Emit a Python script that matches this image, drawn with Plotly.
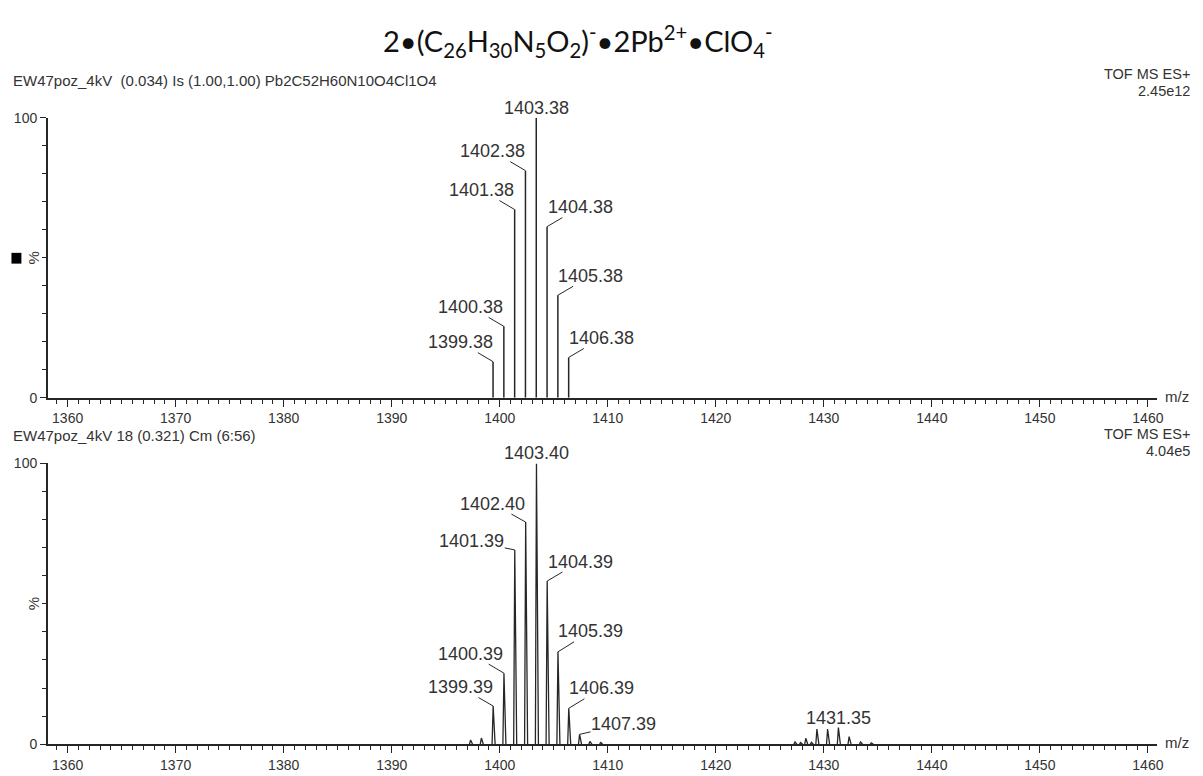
import plotly.graph_objects as go

# ---------------- data ----------------
# Top panel: theoretical isotope pattern (centroid sticks)
top_mz = [1399.38, 1400.38, 1401.38, 1402.38, 1403.38, 1404.38, 1405.38, 1406.38]
top_int = [12.9, 25.5, 67.2, 81.1, 100.0, 61.1, 36.6, 14.4]
top_labels = ["1399.38", "1400.38", "1401.38", "1402.38", "1403.38", "1404.38", "1405.38", "1406.38"]

# Bottom panel: measured spectrum peaks
bot_mz = [1397.30, 1398.30, 1399.39, 1400.39, 1401.39, 1402.40, 1403.40, 1404.39, 1405.39,
          1406.39, 1407.39, 1408.35, 1409.35, 1427.33, 1427.85, 1428.33, 1428.85, 1429.36,
          1430.35, 1431.35, 1432.34, 1433.40, 1434.40]
bot_int = [1.5, 2.2, 13.6, 25.3, 69.2, 79.1, 100.0, 58.1, 32.9,
           12.8, 3.5, 1.0, 0.6, 0.8, 0.6, 2.1, 0.7, 5.4,
           5.4, 5.9, 2.7, 0.8, 0.5]
bot_label_mz = [1399.39, 1400.39, 1401.39, 1402.40, 1403.40, 1404.39, 1405.39, 1406.39, 1407.39, 1431.35]
bot_label_int = [13.6, 25.3, 69.2, 79.1, 100.0, 58.1, 32.9, 12.8, 3.5, 5.9]
bot_labels = ["1399.39", "1400.39", "1401.39", "1402.40", "1403.40", "1404.39", "1405.39",
              "1406.39", "1407.39", "1431.35"]

x_label_ticks = [1360, 1370, 1380, 1390, 1400, 1410, 1420, 1430, 1440, 1450, 1460]
x_mid_ticks = [1365, 1375, 1385, 1395, 1405, 1415, 1425, 1435, 1445, 1455]
x_range = [1358.16, 1460.86]

# ---------------- styles / layout helpers ----------------
W, H = 1203, 776
FONT = "Liberation Sans, Arial, sans-serif"
INK = "#262626"
TXT = "#333333"

def px(x):
    return x / W

def py(y):
    return 1 - y / H

# label offsets (pixels, text centre relative to peak top); None = centred above
top_off = [(-33, -19.5), (-33, -19.5), (-33, -19.5), (-33, -19.5), None, (33, -19.5), (33, -19.5), (33, -19.5)]
bot_off = [(-33, -19), (-33, -19.5), (-43, -8.5), (-33, -18.5), None, (33, -19.5), (33, -20.5), (33, -20), (44, -10), None]

fig = go.Figure()

# top sticks
xs, ys = [], []
for m, h in zip(top_mz, top_int):
    xs += [m, m, None]
    ys += [0, h, None]
fig.add_trace(go.Scatter(x=xs, y=ys, mode="lines", line=dict(color=INK, width=1.5),
                         xaxis="x", yaxis="y", hoverinfo="skip", showlegend=False))

# bottom profile peaks (narrow peak outline around each measured centroid)
LW, RW = 0.1, 0.18
xs, ys = [], []
for m, h in zip(bot_mz, bot_int):
    xs += [m - LW, m, m + RW, None]
    ys += [0, h, 0, None]
fig.add_trace(go.Scatter(x=xs, y=ys, mode="lines", line=dict(color=INK, width=1.3),
                         xaxis="x2", yaxis="y2", hoverinfo="skip", showlegend=False))

axis_common = dict(
    range=x_range, showgrid=False, zeroline=False, showline=True, linecolor=INK, linewidth=1.5,
    ticks="outside", ticklen=7, tickwidth=1.2, tickcolor=INK,
    tickvals=x_label_ticks, ticktext=[str(v) for v in x_label_ticks],
    tickfont=dict(family=FONT, size=14, color=TXT),
    minor=dict(dtick=1, tick0=1360, ticklen=4, tickwidth=1, tickcolor=INK, ticks="outside"),
    fixedrange=True,
)
mid_axis = dict(
    range=x_range, showgrid=False, zeroline=False, showline=False,
    ticks="outside", ticklen=7, tickwidth=1.2, tickcolor=INK,
    tickvals=x_mid_ticks, showticklabels=False, fixedrange=True,
)
yaxis_common = dict(
    range=[0, 100], showgrid=False, zeroline=False, showline=True, linecolor=INK, linewidth=1.5,
    ticks="outside", ticklen=6, tickwidth=1.2, tickcolor=INK,
    tickvals=[0, 100], ticktext=["0", "100"],
    tickfont=dict(family=FONT, size=14, color=TXT),
    minor=dict(dtick=10, tick0=0, ticklen=4, tickwidth=1, tickcolor=INK, ticks="outside"),
    fixedrange=True,
)

XD = [px(48), px(1163)]
fig.update_layout(
    width=W, height=H, margin=dict(l=0, r=0, t=0, b=0),
    paper_bgcolor="white", plot_bgcolor="white", showlegend=False,
    xaxis=dict(domain=XD, anchor="y", **axis_common),
    yaxis=dict(domain=[py(398), py(112)], anchor="x", **yaxis_common),
    xaxis2=dict(domain=XD, anchor="y2", **axis_common),
    yaxis2=dict(domain=[py(751.7), py(465)], anchor="x2", **yaxis_common),
    xaxis3=dict(domain=XD, anchor="y", overlaying="x", **mid_axis),
    xaxis4=dict(domain=XD, anchor="y2", overlaying="x2", **mid_axis),
)

ann = []

def peak_labels(mzs, ints, labels, offs, xr, yr):
    for m, h, t, o in zip(mzs, ints, labels, offs):
        if o is None:
            ann.append(dict(x=m, y=h, xref=xr, yref=yr, text=t, showarrow=False,
                            yanchor="middle", xanchor="center", yshift=10,
                            font=dict(family=FONT, size=18, color=TXT)))
        else:
            ann.append(dict(x=m, y=h, xref=xr, yref=yr, text=t, showarrow=True,
                            ax=o[0], ay=o[1], arrowhead=0, arrowwidth=1, arrowcolor=INK,
                            standoff=0, borderpad=0,
                            font=dict(family=FONT, size=18, color=TXT)))

peak_labels(top_mz, top_int, top_labels, top_off, "x", "y")
peak_labels(bot_label_mz, bot_label_int, bot_labels, bot_off, "x2", "y2")

def ptext(x, y, t, size=15, xanchor="left", angle=0, fam=FONT, color=TXT):
    ann.append(dict(x=px(x), y=py(y), xref="paper", yref="paper", text=t, showarrow=False,
                    xanchor=xanchor, yanchor="middle", textangle=angle,
                    font=dict(family=fam, size=size, color=color)))

# title
ptext(581, 34,
      "2•(C<sub>26</sub>H<sub>30</sub>N<sub>5</sub>O<sub>2</sub>)<sup>-</sup>•2Pb<sup>2+</sup>•ClO<sub>4</sub><sup>-</sup>",
      size=29, xanchor="center", fam="Lato, Open Sans, sans-serif", color="#111111")

# headers
ptext(11, 74, "EW47poz_4kV  (0.034) Is (1.00,1.00) Pb2C52H60N10O4Cl1O4", size=15)
ptext(1198, 67, "TOF MS ES+", size=14.5, xanchor="right")
ptext(1198, 85, "2.45e12", size=14.5, xanchor="right")
ptext(11, 437, "EW47poz_4kV 18 (0.321) Cm (6:56)", size=15)
ptext(1198, 435, "TOF MS ES+", size=14.5, xanchor="right")
ptext(1198, 452, "4.04e5", size=14.5, xanchor="right")

# axis titles
ptext(1183, 397, "m/z", size=15, xanchor="center")
ptext(1183, 750, "m/z", size=15, xanchor="center")
ptext(34, 255, "%", size=15, xanchor="center", angle=-90)
ptext(34, 608, "%", size=15, xanchor="center", angle=-90)

fig.update_layout(annotations=ann)

# small black marker square left of the top panel
fig.add_shape(type="rect", xref="paper", yref="paper",
              x0=px(11.5), x1=px(21.5), y0=py(261), y1=py(250),
              fillcolor="black", line=dict(width=0))

fig.write_html("out.html", config={"displayModeBar": False},
               post_script="document.body.style.margin='0';document.body.style.overflow='hidden';")
